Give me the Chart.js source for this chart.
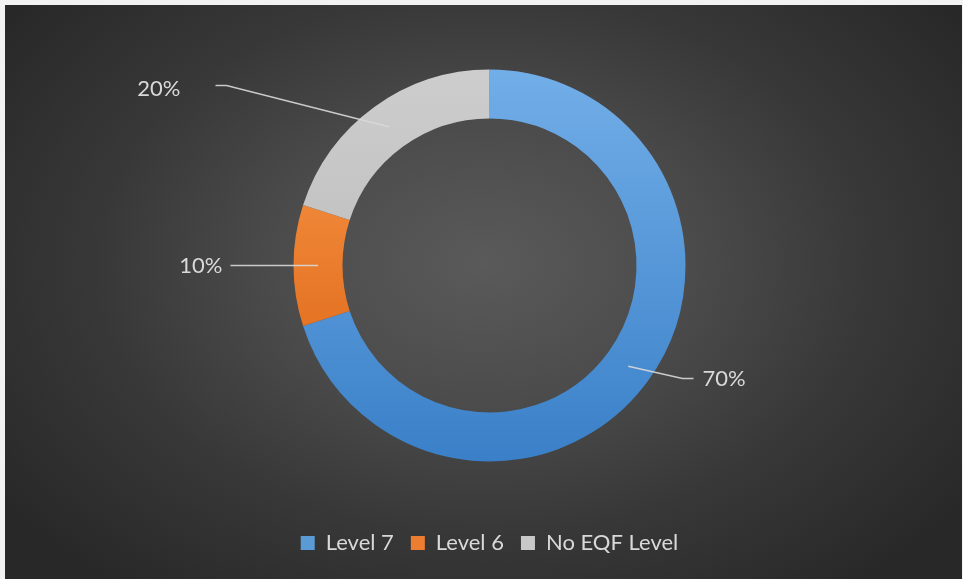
<!doctype html>
<html>
<head>
  <meta charset="utf-8">
  <script src="https://cdn.jsdelivr.net/npm/chart.js@4.4.1/dist/chart.umd.min.js"></script>
  <style>
    body { margin: 0; background: #f2f2f2; }
    #frame {
      position: absolute; left: 5px; top: 5px; width: 957px; height: 574px;
      background: radial-gradient(ellipse 62% 72% at 50% 45%, #5a5a5a 0%, #4b4b4b 35%, #383838 65%, #282828 100%);
    }
  </style>
</head>
<body>
  <div id="frame">
    <canvas id="donut" width="957" height="574"></canvas>
  </div>
  <script>
    const categories = ['Level 7', 'Level 6', 'No EQF Level'];
    const shares = [70, 10, 20];
    const percentLabels = shares.map(v => v + '%');

    // top / bottom colours of each slice
    const sliceTop = ['#72aee8', '#fb9a4d', '#cdcdcd'];
    const sliceBottom = ['#3a80c8', '#d95f0e', '#b4b4b4'];
    const legendColors = ['#5b9bd5', '#ed7d31', '#c8c8c8'];

    const RADIUS = 196;

    // leader line layout, offsets from the donut centre
    const labelLayout = [
      { knee: [193, 113], end: [204, 113], dx: 9, dy: 0, align: 'left' },
      { knee: [-259, 0], end: [-259, 0], dx: -8, dy: 0, align: 'right' },
      { knee: [-263, -180], end: [-274, -180], dx: -35, dy: 3, align: 'right' }
    ];

    const FONT = 'Lato, "Open Sans", sans-serif';

    function sliceFill(c) {
      const area = c.chart.chartArea;
      if (!area) return legendColors[c.dataIndex];
      const cy = (area.top + area.bottom) / 2;
      const g = c.chart.ctx.createLinearGradient(0, cy - RADIUS, 0, cy + RADIUS);
      g.addColorStop(0, sliceTop[c.dataIndex]);
      g.addColorStop(1, sliceBottom[c.dataIndex]);
      return g;
    }

    const leaderLabels = {
      id: 'leaderLabels',
      afterDatasetsDraw(chart) {
        const ctx = chart.ctx;
        const meta = chart.getDatasetMeta(0);
        ctx.save();
        meta.data.forEach((arc, i) => {
          const mid = (arc.startAngle + arc.endAngle) / 2;
          const r = (arc.innerRadius + arc.outerRadius) / 2;
          const sx = arc.x + Math.cos(mid) * r;
          const sy = arc.y + Math.sin(mid) * r;
          const L = labelLayout[i];
          ctx.strokeStyle = 'rgba(217,217,217,0.9)';
          ctx.lineWidth = 1.5;
          ctx.beginPath();
          ctx.moveTo(sx, sy);
          ctx.lineTo(arc.x + L.knee[0], arc.y + L.knee[1]);
          ctx.lineTo(arc.x + L.end[0], arc.y + L.end[1]);
          ctx.stroke();
          ctx.fillStyle = '#d9d9d9';
          ctx.font = '22px ' + FONT;
          ctx.textAlign = L.align;
          ctx.textBaseline = 'middle';
          ctx.fillText(percentLabels[i], arc.x + L.end[0] + L.dx, arc.y + L.end[1] + L.dy);
        });
        ctx.restore();
      }
    };

    new Chart(document.getElementById('donut'), {
      type: 'doughnut',
      data: {
        labels: categories,
        datasets: [{
          data: shares,
          backgroundColor: sliceFill,
          borderWidth: 0,
          hoverOffset: 0
        }]
      },
      options: {
        responsive: false,
        animation: false,
        radius: RADIUS,
        cutout: '75%',
        layout: { padding: { left: 12, right: 0, top: 11, bottom: 15 } },
        plugins: {
          tooltip: { enabled: false },
          legend: {
            position: 'bottom',
            labels: {
              color: '#d9d9d9',
              font: { family: FONT, size: 22 },
              boxWidth: 14,
              boxHeight: 14,
              padding: 17,
              generateLabels: (chart) => categories.map((c, i) => ({
                text: c,
                fillStyle: legendColors[i],
                strokeStyle: legendColors[i],
                lineWidth: 0,
                fontColor: '#d9d9d9',
                index: i
              }))
            }
          }
        }
      },
      plugins: [leaderLabels]
    });
  </script>
</body>
</html>
